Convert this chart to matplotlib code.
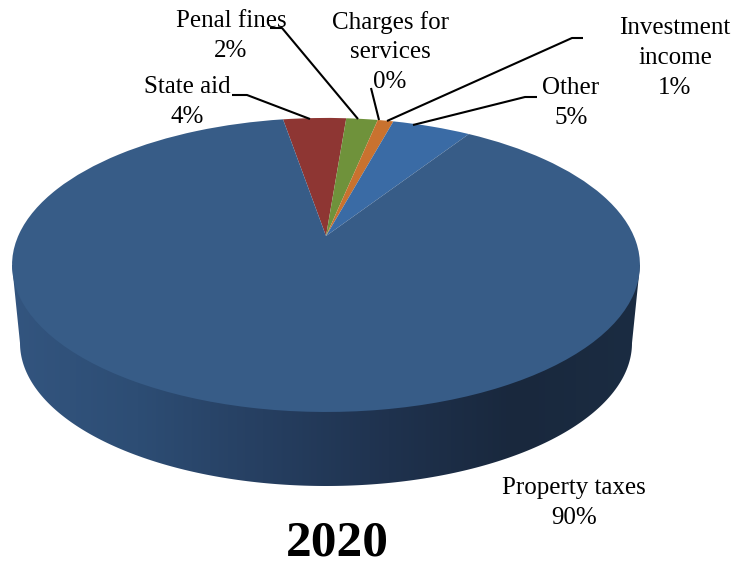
import numpy as np
import matplotlib
matplotlib.use('Agg')
import matplotlib.pyplot as plt
from matplotlib.colors import LinearSegmentedColormap
from matplotlib.patches import Polygon
from matplotlib.transforms import Transform

# revenue shares, clockwise from the top of the disc
categories = ['State aid', 'Penal fines', 'Charges for\nservices', 'Investment\nincome', 'Other', 'Property taxes']
shares = [4, 2, 0, 1, 5, 90]
year = '2020'


class DiscPerspective(Transform):
    """Tilts the unit circle of the pie onto the top face of the disc (pixel coords)."""
    input_dims = 2
    output_dims = 2

    def transform_non_affine(self, values):
        u, v = values[:, 0], values[:, 1]
        w = 1 + 0.197 * v
        return np.column_stack([326 + 307.8 * u / w, 236 - 141.3 * v / w])


fig = plt.figure(figsize=(7.4, 5.66), dpi=100)
ax = fig.add_axes([0, 0, 1, 1])

# side wall of the disc, shaded left to right
t = np.linspace(np.pi, 2 * np.pi, 200)
wall = np.column_stack([326 + 306 * np.cos(t), 343 - 143 * np.sin(t)])
wall = np.vstack([[12, 265], wall, [640, 265]])
wall_patch = Polygon(wall, closed=True, facecolor='none', edgecolor='none', transform=ax.transData)
ax.add_patch(wall_patch)
wall_cmap = LinearSegmentedColormap.from_list('wall', ['#33557f', '#2d4d74', '#263f61', '#1f324e', '#19283d', '#1b2c42'])
img = ax.imshow(np.linspace(0, 1, 256).reshape(1, -1), cmap=wall_cmap, aspect='auto', extent=(12, 640, 486, 265), zorder=1)
img.set_clip_path(wall_patch)

# top face
colors = ['#8e3633', '#6f923b', '#c9722f', '#c9722f', '#3a6ba5', '#375c87']
wedges, _ = ax.pie(shares, colors=colors, startangle=99.6, counterclock=False, radius=1,
                   wedgeprops=dict(linewidth=0))
perspective = DiscPerspective()
for w in wedges:
    w.set_transform(perspective + ax.transData)
    w.set_zorder(2)

ax.set_aspect('auto')
ax.set_xlim(0, 740)
ax.set_ylim(566, 0)
ax.axis('off')

# leader lines
leaders = [
    [(232, 95), (247, 95), (310, 119)],
    [(270, 28), (282, 28), (358, 119)],
    [(371, 88), (379, 120)],
    [(583, 38), (572, 38), (387, 121)],
    [(537, 97), (525, 97), (413, 125)],
]
for pts in leaders:
    xs, ys = zip(*pts)
    ax.plot(xs, ys, color='black', lw=1.5, zorder=3, solid_capstyle='butt')

# slice labels
label_pos = [(187, 102), (231, 36), (390, 52), (675, 58), (571, 103), (574, 503)]
for name, val, (x, y) in zip(categories, shares, label_pos):
    ax.text(x, y, f'{name}\n{val}%', ha='center', va='center', family='Liberation Serif',
            fontsize=18, color='black', linespacing=1.45, zorder=4)

ax.text(337, 555, year, ha='center', va='baseline', family='Liberation Serif', fontweight='bold',
        fontsize=37, color='black', zorder=4)

plt.savefig('out.png', dpi=100)
